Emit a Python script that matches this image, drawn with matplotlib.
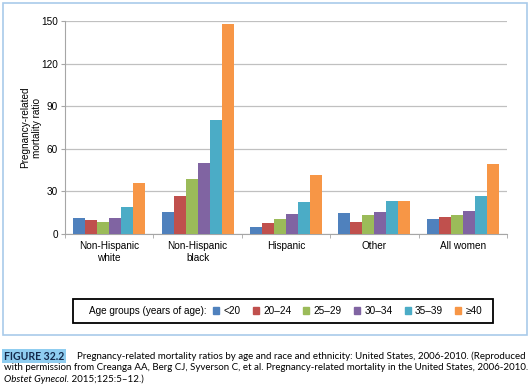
import matplotlib.pyplot as plt
import numpy as np
from matplotlib.patches import Patch, Rectangle

# Pregnancy-related mortality ratios by age and race/ethnicity
groups = ["Non-Hispanic\nwhite", "Non-Hispanic\nblack", "Hispanic", "Other", "All women"]
ages = ["<20", "20\u201324", "25\u201329", "30\u201334", "35\u201339", "\u226540"]
under20 = [11.1, 15.7, 5.1, 14.6, 10.3]
age20_24 = [9.9, 26.8, 7.5, 8.5, 12.2]
age25_29 = [8.7, 38.5, 10.6, 13.4, 13.2]
age30_34 = [11.0, 49.8, 13.9, 15.7, 16.2]
age35_39 = [19.3, 80.3, 22.3, 23.0, 26.5]
over40 = [35.7, 147.7, 41.5, 23.0, 49.0]
colors = ["#4f81bd", "#c0504d", "#9bbb59", "#8064a2", "#4bacc6", "#f79646"]

series = [under20, age20_24, age25_29, age30_34, age35_39, over40]

W, H = 530, 391
fig = plt.figure(figsize=(W / 100, H / 100), dpi=100)
plt.rcParams['font.family'] = ['Liberation Sans', 'DejaVu Sans']

# light blue frame around the chart
fig.patches.append(Rectangle((2.5 / W, 1 - 335 / H), 524 / W, 332 / H,
                             transform=fig.transFigure, fill=False,
                             edgecolor="#a9cbea", lw=1.2))

ax = fig.add_axes([65 / W, 1 - 234 / H, 442 / W, 213 / H])
x = np.arange(len(groups))
bw = 0.136
for i in range(len(series)):
    ax.bar(x + (i - 2.5) * bw, series[i], bw, color=colors[i], zorder=3)

ax.set_ylim(0, 150)
ax.set_yticks([0, 30, 60, 90, 120, 150])
ax.set_xlim(-0.5, len(groups) - 0.5)
ax.set_xticks(x)
ax.set_xticklabels(groups, fontsize=7.2)
ax.set_xticks(np.arange(-0.5, len(groups)), minor=True)
ax.tick_params(axis="x", which="major", length=0, pad=5)
ax.tick_params(axis="x", which="minor", length=3, color="#a6a6a6")
ax.tick_params(axis="y", length=3, color="#a6a6a6", labelsize=7.2, pad=2)
ax.grid(axis="y", color="#c0c0c0", lw=0.9, zorder=0)
for s in ["top", "right"]:
    ax.spines[s].set_visible(False)
ax.spines["left"].set_color("#a6a6a6")
ax.spines["bottom"].set_color("#a6a6a6")
ax.set_ylabel("Pregnancy-related\nmortality ratio", fontsize=7.2, labelpad=-0.5)

# legend box with leading label
fig.patches.append(Rectangle((73 / W, 1 - 323 / H), 420 / W, 24 / H,
                             transform=fig.transFigure, fill=False,
                             edgecolor="black", lw=1.3))
fig.text(89 / W, 1 - 311 / H, "Age groups (years of age):", fontsize=7.2, va="center")
handles = [Patch(color=c) for c in colors]
leg = fig.legend(handles, ages, loc="center left", ncol=6,
                 bbox_to_anchor=(213 / W, 1 - 311 / H), fontsize=7.2,
                 frameon=False, borderaxespad=0, borderpad=0,
                 handlelength=0.6, handleheight=0.6, handletextpad=0.45,
                 columnspacing=1.2)

# caption
cap = {"family": "Lato", "fontsize": 7.05}
fig.text(4 / W, 1 - 356 / H, "FIGURE 32.2", fontweight="bold", color="#13294b",
         va="center", family="Lato", fontsize=7.6,
         bbox=dict(boxstyle="square,pad=0.15", fc="#8fcdf0", ec="none"))
fig.text(77 / W, 1 - 356 / H,
         "Pregnancy-related mortality ratios by age and race and ethnicity: United States, 2006-2010. (Reproduced",
         va="center", **cap)
fig.text(4 / W, 1 - 367.5 / H,
         "with permission from Creanga AA, Berg CJ, Syverson C, et al. Pregnancy-related mortality in the United States, 2006-2010.",
         va="center", **cap)
t3 = fig.text(4 / W, 1 - 379 / H, "Obstet Gynecol.", style="italic", va="center", **cap)
ax.annotate(" 2015;125:5\u201312.)", xy=(1, 0.5), xycoords=t3, va="center", ha="left",
            annotation_clip=False, **cap)

fig.savefig("out.png", dpi=100)
